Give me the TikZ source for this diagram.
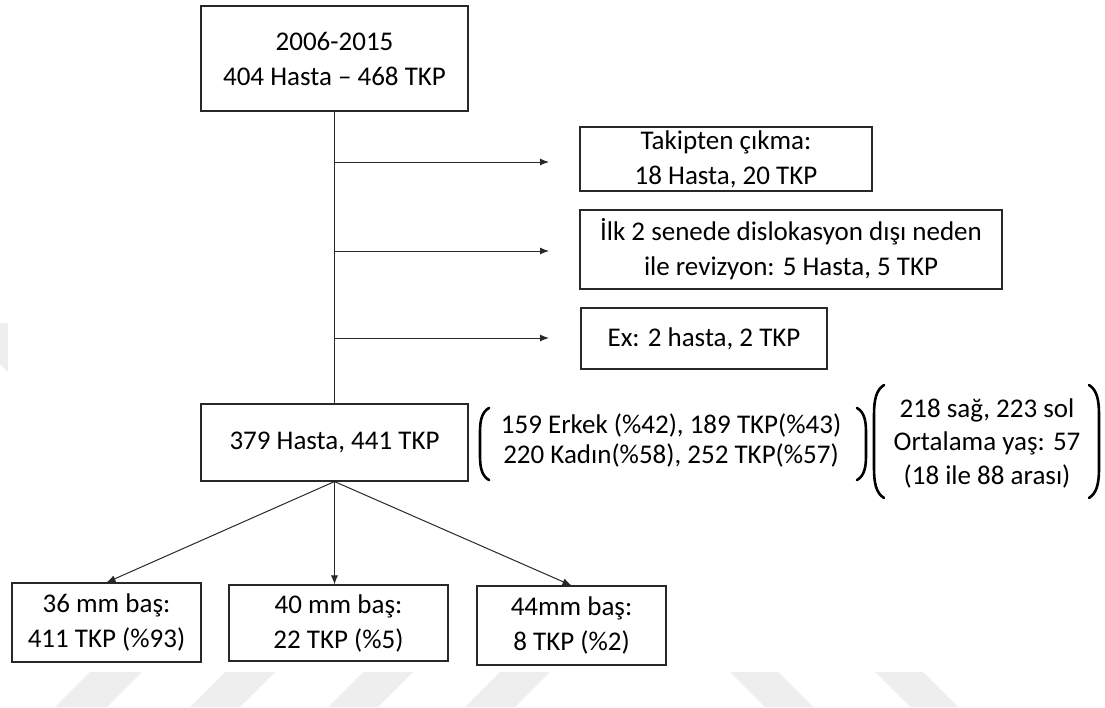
\documentclass[tikz,border=0pt]{standalone}
\usepackage{fontspec}
\setmainfont{Carlito}
\usetikzlibrary{arrows.meta}
\definecolor{wm}{RGB}{238,238,238}
\definecolor{ln}{RGB}{40,40,40}
\tikzset{
  box/.style={draw=ln, line width=1.1pt, inner sep=0pt, align=center, fill=white,
    font=\fontsize{27}{35}\selectfont},
  conn/.style={ln, line width=1pt},
  arr/.style={conn, -{Latex[length=9pt,width=7pt]}},
  brace/.style={line width=2.6pt, line cap=round},
  wmark/.style={fill=wm, draw=none},
  plain/.style={inner sep=0pt, align=center}
}
\begin{document}
\begin{tikzpicture}[x=1pt,y=-1pt]
\useasboundingbox (0,0) rectangle (1105,707);
% watermark
\fill[wmark] (90,672) -- (142,672) -- (107,707) -- (55,707) -- cycle;
\fill[wmark] (225,672) -- (275,672) -- (240,707) -- (190,707) -- cycle;
\fill[wmark] (363,672) -- (413,672) -- (378,707) -- (328,707) -- cycle;
\fill[wmark] (500,672) -- (550,672) -- (515,707) -- (465,707) -- cycle;
\fill[wmark] (730,672) -- (778,672) -- (813,707) -- (765,707) -- cycle;
\fill[wmark] (875,672) -- (923,672) -- (958,707) -- (910,707) -- cycle;
\fill[wmark] (0,323) -- (8,323) -- (8,372) -- (0,364) -- cycle;

% boxes
\node[box, minimum width=267pt, minimum height=105pt] (top) at (334.5,58.5) {2006-2015\\404 Hasta \textendash{} 468 TKP};
\node[box, minimum width=292pt, minimum height=64pt] (tk) at (726,159) {Takipten çıkma:\\18 Hasta, 20 TKP};
\node[box, minimum width=422pt, minimum height=79pt] (ilk) at (791,249.5) {İlk 2 senede dislokasyon dışı neden\\ile revizyon: 5 Hasta, 5 TKP};
\node[box, minimum width=246pt, minimum height=61pt] (ex) at (704,338.5) {Ex: 2 hasta, 2 TKP};
\node[box, minimum width=267pt, minimum height=77pt] (mid) at (334.5,442.5) {379 Hasta, 441 TKP};
\node[box, minimum width=189pt, minimum height=79pt] (b1) at (106.5,622.5) {36 mm baş:\\411 TKP (\%93)};
\node[box, minimum width=219pt, minimum height=76pt] (b2) at (338.5,623) {40 mm baş:\\22 TKP (\%5)};
\node[box, minimum width=189pt, minimum height=79pt] (b3) at (571.5,625.5) {44mm baş:\\8 TKP (\%2)};

% bracket texts
\node[plain, font=\fontsize{27}{30}\selectfont] (gender) at (671,440) {159 Erkek (\%42), 189 TKP(\%43)\\220 Kadın(\%58), 252 TKP(\%57)};
\node[plain, font=\fontsize{27}{33.5}\selectfont] (side) at (987,443) {218 sağ, 223 sol\\Ortalama yaş: 57\\(18 ile 88 arası)};

% brackets
\draw[brace] (489,408) .. controls (482,412) and (480,420) .. (480,432) -- (480,456) .. controls (480,468) and (482,476) .. (489,480);
\draw[brace] (857,408) .. controls (864,412) and (866,420) .. (866,432) -- (866,456) .. controls (866,468) and (864,476) .. (857,480);
\draw[brace] (884,385) .. controls (876,390) and (874,400) .. (874,415) -- (874,468) .. controls (874,483) and (876,493) .. (884,498);
\draw[brace] (1089,385) .. controls (1097,390) and (1099,400) .. (1099,415) -- (1099,468) .. controls (1099,483) and (1097,493) .. (1089,498);

% trunk
\draw[conn] (top.south) -- (mid.north);
\coordinate (j1) at (334,162);
\coordinate (j2) at (334,251);
\coordinate (j3) at (334,338);
\coordinate (e1) at (549,162);
\coordinate (e2) at (549,251);
\coordinate (e3) at (549,338);
\draw[arr] (j1) -- (e1);
\draw[arr] (j2) -- (e2);
\draw[arr] (j3) -- (e3);

% bottom arrows
\draw[arr] (mid.south) -- (b1.north);
\draw[arr] (mid.south) -- (mid.south |- b2.north);
\draw[arr] (mid.south) -- (b3.north);
\end{tikzpicture}
\end{document}
